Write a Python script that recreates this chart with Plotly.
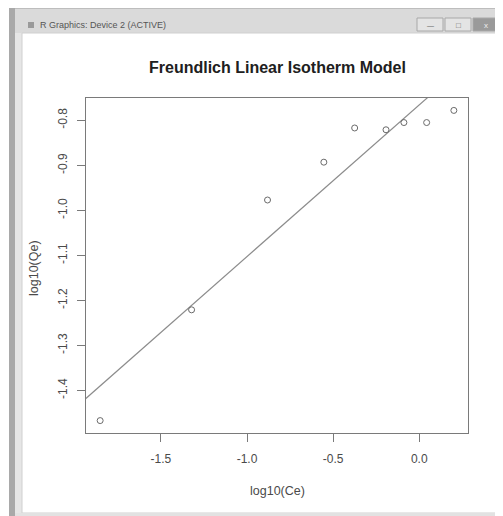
import numpy as np
import plotly.graph_objects as go

# ---- data ----
log_ce = [-1.853, -1.322, -0.881, -0.554, -0.375, -0.193, -0.089, 0.043, 0.201]
log_qe = [-1.467, -1.221, -0.977, -0.893, -0.817, -0.821, -0.805, -0.805, -0.778]
x_ticks = [-1.5, -1.0, -0.5, 0.0]
x_tick_labels = ["-1.5", "-1.0", "-0.5", "0.0"]
y_ticks = [-0.8, -0.9, -1.0, -1.1, -1.2, -1.3, -1.4]
y_tick_labels = ["-0.8", "-0.9", "-1.0", "-1.1", "-1.2", "-1.3", "-1.4"]
title_text = "Freundlich Linear Isotherm Model"
x_title = "log10(Ce)"
y_title = "log10(Qe)"
window_title = "R Graphics: Device 2 (ACTIVE)"

# R-style axis ranges (4% extension)
def r_range(v):
    lo, hi = min(v), max(v)
    d = hi - lo
    return [lo - 0.04 * d, hi + 0.04 * d]

xr = r_range(log_ce)
yr = r_range(log_qe)

# linear fit (abline(lm(...)))
slope, intercept = np.polyfit(log_ce, log_qe, 1)
fit_x = [xr[0] - 1, xr[1] + 1]
fit_y = [intercept + slope * v for v in fit_x]

OFF = 8  # browser body margin
W, H = 503 - OFF, 516 - OFF
L, R, T, B = 86 - OFF, 468 - OFF, 98 - OFF, 433 - OFF

def px(x):
    return (x - OFF - L) / (R - L)

def py(y):
    return (B - (y - OFF)) / (B - T)

axis_col = "#7a7a7a"
text_col = "#4a4a4a"
font_fam = "Liberation Sans, Arial, sans-serif"

fig = go.Figure()
fig.add_trace(go.Scatter(x=fit_x, y=fit_y, mode="lines",
                         line=dict(color="#8c8c8c", width=1.2), hoverinfo="skip",
                         showlegend=False))
fig.add_trace(go.Scatter(x=log_ce, y=log_qe, mode="markers",
                         marker=dict(symbol="circle-open", size=6, color="#6a6a6a",
                                     line=dict(color="#6a6a6a", width=1)),
                         showlegend=False))

shapes = []
def rect(x0, x1, y0, y1, fill, line=None):
    shapes.append(dict(type="rect", xref="paper", yref="paper",
                       x0=px(x0), x1=px(x1), y0=py(y0), y1=py(y1),
                       fillcolor=fill, line=line or dict(width=0), layer="below"))

# window chrome
rect(9, 503, 7, 33, "#dadada")
rect(9, 503, 7, 9, "#bdbdbd")
rect(9, 15, 7, 516, "#a9a9a9")
rect(15, 22, 33, 516, "#e6e6e6")
rect(22, 499, 33, 513, "#ffffff", dict(color="#d0d0d0", width=1))
rect(499, 503, 33, 516, "#e2e2e2")
rect(15, 503, 513, 516, "#e2e2e2")
for (a, b, c) in [(417, 443, "#e4e4e4"), (445, 471, "#e4e4e4"), (473, 499, "#9a9a9a")]:
    rect(a, b, 18, 31, c, dict(color="#a8a8a8", width=1))
rect(28, 34, 22, 28, "#9a9a9a")

annotations = [
    dict(text="<b>" + title_text + "</b>", xref="paper", yref="paper", x=px(277), y=py(67),
         showarrow=False, xanchor="center", yanchor="middle",
         font=dict(size=16, color="#202020", family=font_fam)),
    dict(text=x_title, xref="paper", yref="paper", x=px(277), y=py(491),
         showarrow=False, xanchor="center", yanchor="middle",
         font=dict(size=12.5, color=text_col, family=font_fam)),
    dict(text=y_title, xref="paper", yref="paper", x=px(34), y=py(268), textangle=-90,
         showarrow=False, xanchor="center", yanchor="middle",
         font=dict(size=12.5, color=text_col, family=font_fam)),
    dict(text=window_title, xref="paper", yref="paper", x=px(38), y=py(25),
         showarrow=False, xanchor="left", yanchor="middle",
         font=dict(size=9, color="#555555", family=font_fam)),
    dict(text="\u2014", xref="paper", yref="paper", x=px(430), y=py(25),
         showarrow=False, xanchor="center", yanchor="middle",
         font=dict(size=7, color="#666666", family=font_fam)),
    dict(text="\u25a1", xref="paper", yref="paper", x=px(458), y=py(25),
         showarrow=False, xanchor="center", yanchor="middle",
         font=dict(size=8, color="#666666", family=font_fam)),
    dict(text="x", xref="paper", yref="paper", x=px(486), y=py(25),
         showarrow=False, xanchor="center", yanchor="middle",
         font=dict(size=8, color="#eeeeee", family=font_fam)),
]

fig.update_layout(
    width=W, height=H, autosize=False,
    margin=dict(l=L, r=W - R, t=T, b=H - B, pad=0),
    paper_bgcolor="#ffffff", plot_bgcolor="rgba(0,0,0,0)",
    shapes=shapes, annotations=annotations,
    font=dict(family=font_fam, size=12, color=text_col),
    showlegend=False,
)
fig.update_xaxes(range=xr, tickvals=x_ticks, ticktext=x_tick_labels,
                 showgrid=False, zeroline=False, showline=True, mirror=True,
                 linecolor=axis_col, linewidth=1, ticks="outside", ticklen=8,
                 tickcolor=axis_col, tickwidth=1, ticklabelstandoff=7,
                 tickfont=dict(size=12, color=text_col))
fig.update_yaxes(range=yr, tickvals=y_ticks, ticktext=y_tick_labels,
                 showgrid=False, zeroline=False, showline=True, mirror=True,
                 linecolor=axis_col, linewidth=1, ticks="outside", ticklen=8,
                 tickcolor=axis_col, tickwidth=1, tickangle=-90, ticklabelstandoff=5,
                 tickfont=dict(size=12, color=text_col))

fig.write_html("out.html")
